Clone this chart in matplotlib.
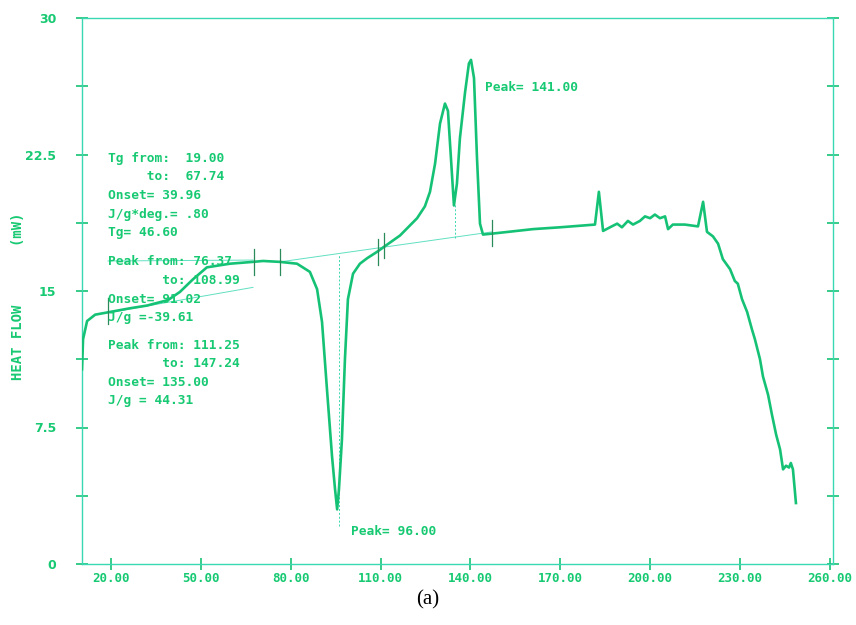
import numpy as np
import matplotlib
matplotlib.use("Agg")
from matplotlib import pyplot as plt

# DSC trace (temperature, heat flow in mW)
temp = [10.3, 10.65, 12.0, 14.7, 19.7, 26.3, 32.0, 39.0, 43.0, 47.4, 52.0, 59.7,
        67.4, 70.75, 76.4, 82.1, 86.4, 88.8, 90.45, 92.1, 93.8, 94.8, 95.5, 96.1,
        97.1, 98.1, 99.1, 100.8, 103.1, 105.5, 108.8, 112.2, 116.5, 122.2, 124.8,
        126.5, 128.2, 129.85, 131.5, 132.5, 133.5, 134.5, 135.5, 136.5, 138.2,
        139.5, 140.2, 141.2, 142.2, 143.2, 144.2, 149.9, 160.9, 169.9, 181.6,
        182.9, 184.3, 186.6, 189.0, 190.6, 192.6, 194.3, 196.6, 198.3, 200.0,
        201.6, 203.3, 205.0, 206.0, 207.6, 211.6, 216.0, 217.7, 219.0, 221.0,
        222.7, 224.3, 226.7, 228.3, 229.3, 230.7, 232.4, 234.0, 235.0, 236.7,
        237.7, 239.4, 240.7, 242.1, 243.4, 244.4, 245.4, 246.4, 247.0, 247.7,
        248.3, 248.7]
heat_flow = [10.7, 12.35, 13.35, 13.7, 13.85, 14.05, 14.2, 14.5, 14.95, 15.65,
             16.3, 16.5, 16.6, 16.65, 16.6, 16.5, 16.05, 15.1, 13.3, 9.6, 5.9,
             4.1, 3.0, 4.1, 6.85, 11.25, 14.55, 15.95, 16.5, 16.8, 17.15, 17.55,
             18.05, 19.0, 19.65, 20.45, 22.0, 24.2, 25.3, 24.9, 22.3, 19.7, 20.9,
             23.4, 25.9, 27.5, 27.7, 26.7, 22.3, 18.7, 18.1, 18.2, 18.4, 18.5,
             18.65, 20.45, 18.3, 18.5, 18.7, 18.5, 18.85, 18.65, 18.85, 19.1,
             19.0, 19.2, 19.0, 19.1, 18.4, 18.65, 18.65, 18.55, 19.9, 18.25,
             18.0, 17.6, 16.75, 16.2, 15.55, 15.4, 14.55, 13.85, 12.9, 12.35,
             11.25, 10.3, 9.3, 8.2, 7.1, 6.3, 5.2, 5.4, 5.3, 5.55, 5.2, 4.1, 3.35]

# construction lines drawn by the instrument software
tg_upper_x = [19.0, 67.4]
tg_upper_y = [16.65, 16.7]
tg_lower_x = [19.0, 67.4]
tg_lower_y = [13.8, 15.2]
peak_base_x = [76.37, 147.24]
peak_base_y = [16.6, 18.25]
limit_marks = [19.0, 67.74, 76.37, 108.99, 111.25, 147.24]
limit_levels = [13.9, 16.6, 16.6, 17.15, 17.5, 18.2]
drop_x = [96.0, 135.0]
drop_top = [17.0, 19.7]
drop_bottom = [2.1, 17.9]

xticks = [20, 50, 80, 110, 140, 170, 200, 230, 260]
xtick_labels = ["20.00", "50.00", "80.00", "110.00", "140.00", "170.00",
                "200.00", "230.00", "260.00"]
yticks = [0, 3.75, 7.5, 11.25, 15, 18.75, 22.5, 26.25, 30]
ytick_labels = ["0", "", "7.5", "", "15", "", "22.5", "", "30"]

info_lines = [
    ("Tg from:  19.00", 19.0, 22.3),
    ("     to:  67.74", 19.0, 21.3),
    ("Onset= 39.96", 19.0, 20.25),
    ("J/g*deg.= .80", 19.0, 19.2),
    ("Tg= 46.60", 19.0, 18.2),
    ("Peak from: 76.37", 19.0, 16.6),
    ("       to: 108.99", 19.0, 15.6),
    ("Onset= 91.02", 19.0, 14.55),
    ("J/g =-39.61", 19.0, 13.55),
    ("Peak from: 111.25", 19.0, 12.0),
    ("       to: 147.24", 19.0, 11.0),
    ("Onset= 135.00", 19.0, 10.0),
    ("J/g = 44.31", 19.0, 9.0),
    ("Peak= 141.00", 145.0, 26.2),
    ("Peak= 96.00", 100.0, 1.8),
]

curve_col = "#15c275"
text_col = "#17c972"
axis_col = "#3ad8b2"

fig = plt.figure(figsize=(8.56, 6.25), dpi=100)
ax = fig.add_axes([0.0958, 0.0976, 0.8774, 0.8736])

ax.plot(temp, heat_flow, color=curve_col, lw=1.9, zorder=3)

thin = dict(color=axis_col, lw=0.7, alpha=0.8, zorder=2)
ax.plot(tg_upper_x, tg_upper_y, **thin)
ax.plot(tg_lower_x, tg_lower_y, **thin)
ax.plot(peak_base_x, peak_base_y, **thin)
for xm, ym in zip(limit_marks, limit_levels):
    ax.plot([xm, xm], [ym - 0.7, ym + 0.7], color="#2a8a5a", lw=0.9, zorder=4)
for xd, yt, yb in zip(drop_x, drop_top, drop_bottom):
    ax.plot([xd, xd], [yb, yt], color=axis_col, lw=0.7, ls=(0, (2, 2)), zorder=2)

for txt, tx, ty in info_lines:
    ax.text(tx, ty, txt, family="DejaVu Sans Mono", fontweight="bold",
            fontsize=9.3, color=text_col, va="center", ha="left", zorder=5)

ax.set_xlim(10.3, 261.1)
ax.set_ylim(0, 30)
for side in ["left", "right", "top", "bottom"]:
    ax.spines[side].set_color(axis_col)
    ax.spines[side].set_linewidth(1.0)

ax.set_xticks(xticks)
ax.set_xticklabels(xtick_labels)
ax.set_yticks(yticks)
ax.set_yticklabels(ytick_labels)
ax.tick_params(axis="y", direction="inout", length=9, width=1.2, color=curve_col,
               right=True, labelright=False, pad=14, labelcolor=text_col,
               labelsize=9)
ax.tick_params(axis="x", direction="inout", length=9, width=1.2, color=curve_col,
               pad=1, labelcolor=text_col, labelsize=9)
for lab in ax.get_xticklabels() + ax.get_yticklabels():
    lab.set_fontweight("bold")
for lab in ax.get_xticklabels():
    lab.set_family("DejaVu Sans Mono")

fig.text(0.021, 0.526, "HEAT FLOW       (mW)", rotation=90, ha="center",
         va="center", family="DejaVu Sans Mono", fontweight="bold",
         fontsize=10, color=text_col)
fig.text(0.5, 0.04, "(a)", ha="center", va="center",
         family="Liberation Serif", fontsize=15, color="black")

fig.savefig("out.png", dpi=100)
